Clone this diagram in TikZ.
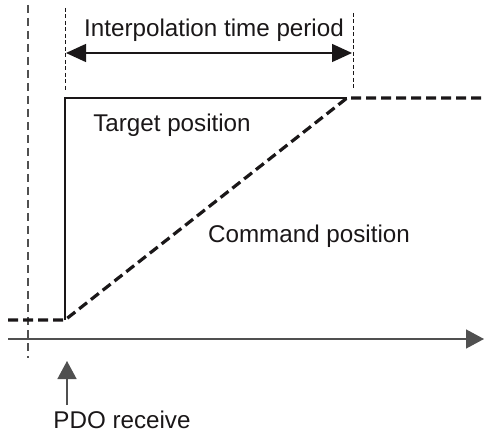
\documentclass[tikz,border=0pt]{standalone}
\usepackage{fontspec}
\setmainfont{Liberation Sans}
\usetikzlibrary{arrows.meta}
\definecolor{ink}{HTML}{1A1718}
\definecolor{lgray}{HTML}{505050}
\tikzset{
  lbl/.style={font=\fontsize{24.2}{28}\selectfont, text=ink, anchor=base, inner sep=0pt},
  thinline/.style={draw=lgray, line width=1.4pt},
  thickdash/.style={draw=ink, line width=3.2pt, dash pattern=on 10pt off 5pt},
  finedash/.style={draw=ink, line width=1pt, dash pattern=on 4pt off 2.5pt},
  guidedash/.style={draw=lgray, line width=1.5pt, dash pattern=on 8pt off 5pt},
  tipA/.tip={Triangle[length=20pt,width=18pt]},
  tipB/.tip={Triangle[length=18pt,width=19pt]},
}
\begin{document}
\begin{tikzpicture}[x=1pt,y=-1pt]
\useasboundingbox (0,0) rectangle (484,435);
% key points
\coordinate (g1) at (28,5);
\coordinate (g2) at (28,358);
\coordinate (p1t) at (65,8);
\coordinate (p1b) at (65,90);
\coordinate (p2t) at (353,13);
\coordinate (p2b) at (353,90);
\coordinate (al) at (66,53);
\coordinate (ar) at (352,53);
\coordinate (lowL) at (8,320);
\coordinate (lowC) at (65,320);
\coordinate (highC) at (65,98);
\coordinate (highE) at (347,98);
\coordinate (highR) at (484,98);
\coordinate (axL) at (8,339);
\coordinate (axR) at (484,339);
\coordinate (pdoB) at (67,405);
\coordinate (pdoT) at (67,361);
% guide lines
\draw[guidedash] (g1) -- (g2);
\draw[finedash] (p1t) -- (p1b);
\draw[finedash] (p2t) -- (p2b);
% interpolation arrow
\draw[thinline, draw=ink, fill=ink, tipA-tipA] (al) -- (ar);
\node[lbl] (tint) at (214,37) {Interpolation time period};
% target position (solid)
\draw[thinline, draw=ink] (lowC) -- (highC) -- (highE);
% command position (dashed)
\draw[thickdash] (lowL) -- (lowC) -- (highE) -- (highR);
% axis
\draw[thinline, -tipB] (axL) -- (axR);
% PDO arrow
\draw[thinline, -tipB] (pdoB) -- (pdoT);
% labels
\node[lbl] (ttar) at (172,132) {Target position};
\node[lbl] (tcmd) at (309,243) {Command position};
\node[lbl] (tpdo) at (122,428) {PDO receive};
\end{tikzpicture}
\end{document}
